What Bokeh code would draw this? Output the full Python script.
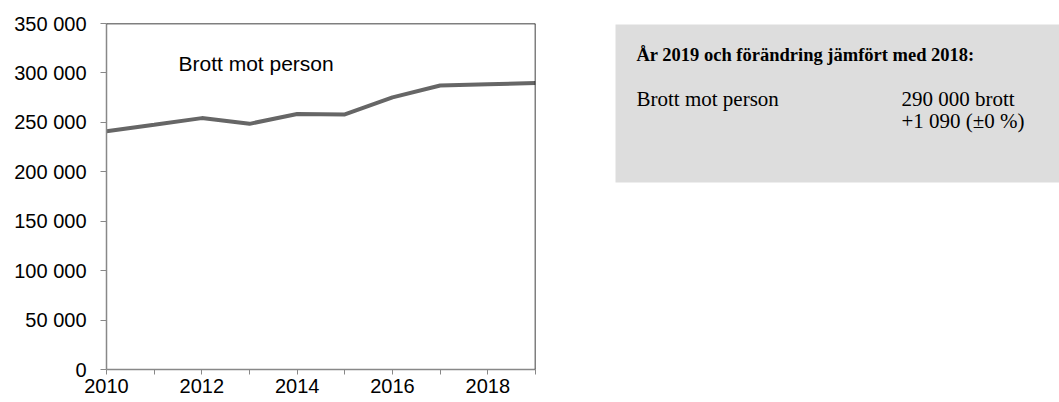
from bokeh.plotting import figure
from bokeh.layouts import row
from bokeh.models import Range1d, FixedTicker, Label, Span
from bokeh.embed import file_html
from bokeh.resources import INLINE

years = [2010, 2011, 2012, 2013, 2014, 2015, 2016, 2017, 2018, 2019]
brott_mot_person = [241000, 247500, 254300, 248500, 258400, 258000, 275300, 287300, 288600, 289700]
y_ticks = [0, 50000, 100000, 150000, 200000, 250000, 300000, 350000]
y_labels = ["0", "50 000", "100 000", "150 000", "200 000", "250 000", "300 000", "350 000"]
x_labels = ["2010", "", "2012", "", "2014", "", "2016", "", "2018", ""]
series_name = "Brott mot person"
box_title = "År 2019 och förändring jämfört med 2018:"
box_row_label = "Brott mot person"
box_value_1 = "290 000 brott"
box_value_2 = "+1 090 (±0 %)"

SANS = "Liberation Sans"
SERIF = "Liberation Serif"

p = figure(width=588, height=402, output_backend="svg", toolbar_location=None, title=None,
           x_range=Range1d(2010, 2019), y_range=Range1d(0, 350000),
           min_border_left=106, min_border_right=53, min_border_top=23, min_border_bottom=33)
p.outline_line_color = None
p.xgrid.visible = False
p.ygrid.visible = False

p.line(years, brott_mot_person, line_color="#666666", line_width=4)

p.yaxis.ticker = FixedTicker(ticks=y_ticks)
p.yaxis.major_label_overrides = {t: l for t, l in zip(y_ticks, y_labels)}
p.xaxis.ticker = FixedTicker(ticks=years)
p.xaxis.major_label_overrides = {t: l for t, l in zip(years, x_labels)}
for ax in (p.xaxis[0], p.yaxis[0]):
    ax.axis_line_color = "#888888"
    ax.axis_line_width = 1.5
    ax.major_tick_line_color = "#888888"
    ax.major_tick_in = 0
    ax.major_tick_out = 6
    ax.minor_tick_line_color = None
    ax.major_label_text_font = SANS
    ax.major_label_text_font_size = "20px"
    ax.major_label_text_color = "#000000"
p.xaxis.major_tick_out = 5
p.xaxis.major_label_standoff = 4
p.yaxis.major_label_standoff = 14

p.add_layout(Span(location=350000, dimension="width", line_color="#000000", line_width=1.5))
p.add_layout(Span(location=2019, dimension="height", line_color="#000000", line_width=1.5))

p.add_layout(Label(x=2011.51, y=309500, text=series_name, text_font=SANS,
                   text_font_size="21px", text_baseline="alphabetic", text_color="#000000"))

# info box (frame aligned with the chart's frame: screen y 23..369)
q = figure(width=471, height=402, output_backend="svg", toolbar_location=None, title=None,
           x_range=Range1d(0, 471), y_range=Range1d(369, 23),
           min_border_left=0, min_border_right=0, min_border_top=23, min_border_bottom=33,
           x_axis_location=None, y_axis_location=None)
q.outline_line_color = None
q.xgrid.visible = False
q.ygrid.visible = False
q.quad(left=[27], right=[471], top=[24], bottom=[182], fill_color="#dddddd", line_color=None)
q.text(x=[48], y=[54], text=[box_title], text_font={"value": SERIF}, text_font_style="bold",
       text_font_size="18.5px", text_baseline="alphabetic", text_color="#000000")
q.text(x=[48, 313, 313], y=[98.5, 98.5, 120.5], text=[box_row_label, box_value_1, box_value_2],
       text_font={"value": SERIF}, text_font_size="21px", text_baseline="alphabetic",
       text_color="#000000")

layout = row(p, q, spacing=0)
open("out.html", "w").write(file_html(layout, INLINE))
